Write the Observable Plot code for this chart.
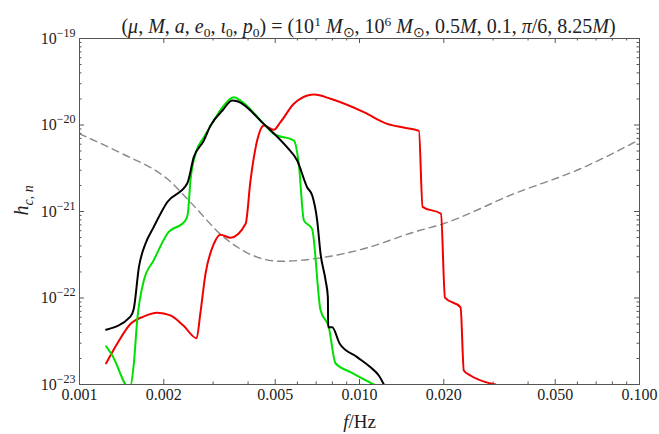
<!DOCTYPE html>
<html>
<head>
<meta charset="utf-8">
<script src="https://cdn.jsdelivr.net/npm/d3@7"></script>
<script src="https://cdn.jsdelivr.net/npm/@observablehq/plot@0.6"></script>
<style>
  body { margin: 0; background: #fff; }
  svg { display: block; }
</style>
</head>
<body>
<div id="chart"></div>
<script>
// Characteristic strain of three harmonics versus frequency, with the detector noise curve.
const blackFreq = [0.001245, 0.00152, 0.001563, 0.00163, 0.00172, 0.00184, 0.002056, 0.002427, 0.00256, 0.00278, 0.00294, 0.00324, 0.00351, 0.00366, 0.00455, 0.00552, 0.00599, 0.0065, 0.00678, 0.00706, 0.00726, 0.00757, 0.00771, 0.00773, 0.00799, 0.0085, 0.00981, 0.01095, 0.01172, 0.01222];
const blackStrain = [4.29e-23, 6.1e-23, 7.5e-23, 2.27e-22, 4.24e-22, 6.6e-22, 1.28e-21, 2.12e-21, 4.25e-21, 6.6e-21, 9.9e-21, 1.47e-20, 1.92e-20, 1.88e-20, 1.03e-20, 5.5e-21, 3.89e-21, 1.91e-21, 1.53e-21, 7.9e-22, 3.24e-22, 1.59e-22, 1.02e-22, 4.6e-23, 4.6e-23, 2.96e-23, 2.07e-23, 1.58e-23, 1.27e-23, 1.0e-23];

const greenFreq = [0.001245, 0.00131, 0.001512, 0.001563, 0.001607, 0.001697, 0.00184, 0.002056, 0.00239, 0.002437, 0.00249, 0.002595, 0.00278, 0.00302, 0.003277, 0.003556, 0.003758, 0.00455, 0.00494, 0.00583, 0.00607, 0.00633, 0.00677, 0.00726, 0.00777, 0.00821, 0.00929, 0.01125];
const greenStrain = [2.77e-23, 2.16e-23, 9.0e-24, 1.73e-23, 5.5e-23, 1.59e-22, 2.72e-22, 5.5e-22, 7.9e-22, 9.4e-22, 2.28e-21, 4.65e-21, 7.2e-21, 1.13e-20, 1.68e-20, 2.09e-20, 1.92e-20, 1.03e-20, 7.9e-21, 6.6e-21, 3.56e-21, 7.9e-22, 6.3e-22, 7.2e-23, 4.6e-23, 1.76e-23, 1.39e-23, 1.0e-23];

const redFreq = [0.001245, 0.001363, 0.00152, 0.001693, 0.001895, 0.002113, 0.00235, 0.00262, 0.0027, 0.002818, 0.00302, 0.00319, 0.00346, 0.00392, 0.00408, 0.00431, 0.00455, 0.00494, 0.00522, 0.00583, 0.00616, 0.0069, 0.00788, 0.01036, 0.01256, 0.01436, 0.0163, 0.0168, 0.01954, 0.0202, 0.02296, 0.02358, 0.0249, 0.0306];
const redStrain = [1.76e-23, 2.96e-23, 5.0e-23, 6.1e-23, 6.75e-23, 6.3e-23, 4.8e-23, 3.43e-23, 6.56e-23, 1.9e-22, 4.24e-22, 5.38e-22, 4.97e-22, 7.2e-22, 2.28e-21, 6.6e-21, 9.9e-21, 8.8e-21, 1.08e-20, 1.76e-20, 2.02e-20, 2.25e-20, 2.01e-20, 1.41e-20, 1.03e-20, 9.35e-21, 8.57e-21, 1.13e-21, 9.4e-22, 1.01e-22, 7.8e-23, 1.45e-23, 1.27e-23, 1.0e-23];

const noiseFreq = [0.001, 0.00144, 0.001946, 0.002056, 0.00249, 0.003277, 0.00431, 0.00522, 0.00687, 0.01036, 0.01563, 0.01986, 0.03556, 0.0615, 0.1];
const noiseStrain = [7.9e-21, 4.56e-21, 2.73e-21, 2.39e-21, 1.28e-21, 5.05e-22, 2.97e-22, 2.66e-22, 2.84e-22, 3.71e-22, 5.77e-22, 7.2e-22, 1.6e-21, 3.12e-21, 6.75e-21];

// Axis ticks
const xMajorTicks = [0.001, 0.002, 0.005, 0.01, 0.02, 0.05, 0.1];
const xTickLabels = ["0.001", "0.002", "0.005", "0.010", "0.020", "0.050", "0.100"];
const xMinorTicks = [0.003, 0.004, 0.006, 0.007, 0.008, 0.009, 0.03, 0.04, 0.06, 0.07, 0.08, 0.09];
const yExponents = [-23, -22, -21, -20, -19];
const yMinorMantissas = [2, 3, 4, 5, 6, 7, 8, 9];

const W = 659, H = 434;
const mLeft = 79, mRight = 20, mTop = 38, mBottom = 50;
const frameW = W - mLeft - mRight, frameH = H - mTop - mBottom;

const yMajorTicks = yExponents.map(e => Math.pow(10, e));
const yMinorTicks = yExponents.slice(0, -1).flatMap(e => yMinorMantissas.map(m => m * Math.pow(10, e)));

const series = (fs, hs) => fs.map((f, i) => ({f, h: hs[i]}));
const axisColor = "#555";
const serif = "Liberation Serif";
const majorLen = 5, minorLen = 2.5;

const tickMarksX = (values, len) => [
  Plot.tickX(values, {x: d => d, insetTop: frameH - len, stroke: axisColor}),
  Plot.tickX(values, {x: d => d, insetBottom: frameH - len, stroke: axisColor})
];
const tickMarksY = (values, len) => [
  Plot.tickY(values, {y: d => d, insetRight: frameW - len, stroke: axisColor}),
  Plot.tickY(values, {y: d => d, insetLeft: frameW - len, stroke: axisColor})
];

// Placeholder strings that are rewritten as rich text after rendering
const TITLE = "@title", YLABEL = "@ylabel", XLABEL = "@xlabel";

const chart = Plot.plot({
  width: W,
  height: H,
  marginLeft: mLeft,
  marginRight: mRight,
  marginTop: mTop,
  marginBottom: mBottom,
  style: {fontFamily: serif, background: "#fff", color: "#222"},
  x: {type: "log", domain: [0.001, 0.1], axis: null},
  y: {type: "log", domain: [1e-23, 1e-19], axis: null},
  marks: [
    Plot.line(series(noiseFreq, noiseStrain), {x: "f", y: "h", stroke: "#888", strokeWidth: 1.4, strokeDasharray: "7,5", curve: "monotone-x", clip: true}),
    Plot.line(series(redFreq, redStrain), {x: "f", y: "h", stroke: "#f20000", strokeWidth: 2, curve: "monotone-x", clip: true}),
    Plot.line(series(greenFreq, greenStrain), {x: "f", y: "h", stroke: "#00e000", strokeWidth: 2, curve: "monotone-x", clip: true}),
    Plot.line(series(blackFreq, blackStrain), {x: "f", y: "h", stroke: "#000", strokeWidth: 2, curve: "monotone-x", clip: true}),
    Plot.frame({stroke: axisColor, strokeWidth: 1}),
    ...tickMarksX(xMajorTicks, majorLen),
    ...tickMarksX(xMinorTicks, minorLen),
    ...tickMarksY(yMajorTicks, majorLen),
    ...tickMarksY(yMinorTicks, minorLen),
    Plot.text(xMajorTicks, {x: d => d, frameAnchor: "bottom", dy: 15, text: (d, i) => xTickLabels[i], fontSize: 16, fontFamily: serif, textAnchor: "middle"}),
    Plot.text(yMajorTicks, {y: d => d, frameAnchor: "left", dx: -4, dy: 0, text: d => "@exp" + Math.round(Math.log10(d)), fontSize: 16, fontFamily: serif, textAnchor: "end"}),
    Plot.text([TITLE], {frameAnchor: "top", dy: -20, dx: 9, text: d => d, fontSize: 20, fontFamily: serif}),
    Plot.text([YLABEL], {frameAnchor: "left", dx: -58, dy: 4, rotate: -90, text: d => d, fontSize: 20, fontFamily: serif}),
    Plot.text([XLABEL], {frameAnchor: "bottom", dy: 43, text: d => d, fontSize: 19, fontFamily: serif})
  ]
});

// Rich text (italics, sub- and superscripts) through tspans
function richText(el, parts) {
  const t = d3.select(el);
  t.text(null);
  let shift = 0;
  for (const p of parts) {
    const q = typeof p === "string" ? {t: p} : p;
    const span = t.append("tspan").text(q.t);
    const target = q.sup ? -q.sup : q.sub ? q.sub : 0;
    if (target !== shift) { span.attr("dy", target - shift); shift = target; }
    if (q.i) span.attr("font-style", "italic");
    if (q.size) span.attr("font-size", q.size);
  }
}

const s = 13.5;
d3.select(chart).selectAll("text").each(function () {
  const txt = this.textContent;
  if (txt.startsWith("@exp")) {
    richText(this, ["10", {t: txt.slice(4).replace("-", "\u2212"), sup: 7, size: 12}]);
  } else if (txt === TITLE) {
    richText(this, [
      "(", {t: "\u03bc", i: 1}, ", ", {t: "M", i: 1}, ", ", {t: "a", i: 1}, ", ",
      {t: "e", i: 1}, {t: "0", sub: 4, size: s}, ", ",
      {t: "\u03b9", i: 1}, {t: "0", sub: 4, size: s}, ", ",
      {t: "p", i: 1}, {t: "0", sub: 4, size: s}, ") = (10",
      {t: "1", sup: 7, size: s}, " ", {t: "M", i: 1}, {t: "\u2299", sub: 4, size: s},
      ", 10", {t: "6", sup: 7, size: s}, " ", {t: "M", i: 1}, {t: "\u2299", sub: 4, size: s},
      ", 0.5", {t: "M", i: 1}, ", 0.1, ", {t: "\u03c0", i: 1}, "/6, 8.25", {t: "M", i: 1}, ")"
    ]);
  } else if (txt === YLABEL) {
    richText(this, [{t: "h", i: 1}, {t: "c, n", i: 1, sub: 5, size: 14}]);
  } else if (txt === XLABEL) {
    richText(this, [{t: "f", i: 1}, "/Hz"]);
  }
});

document.getElementById("chart").appendChild(chart);
</script>
</body>
</html>
